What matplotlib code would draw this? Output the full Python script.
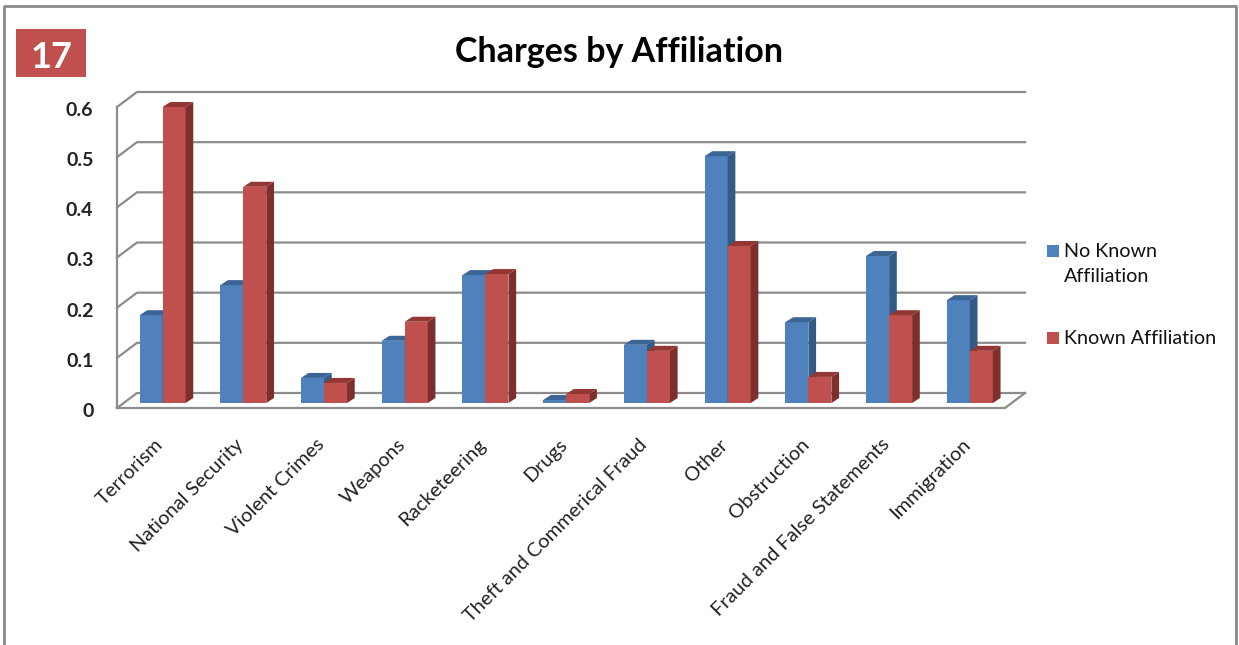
import numpy as np
import matplotlib
matplotlib.use("Agg")
import matplotlib.pyplot as plt
from matplotlib.patches import Polygon, Rectangle
from matplotlib.transforms import ScaledTranslation

plt.rcParams['font.family'] = ['Lato', 'DejaVu Sans']

categories = ['Terrorism', 'National Security', 'Violent Crimes', 'Weapons', 'Racketeering', 'Drugs',
              'Theft and Commerical Fraud', 'Other', 'Obstruction', 'Fraud and False Statements', 'Immigration']
no_known = [0.175, 0.235, 0.05, 0.124, 0.255, 0.006, 0.116, 0.492, 0.161, 0.293, 0.205]
known = [0.59, 0.431, 0.04, 0.162, 0.257, 0.018, 0.104, 0.313, 0.052, 0.175, 0.104]
yticks = [0, 0.1, 0.2, 0.3, 0.4, 0.5, 0.6]
yticklabels = ['0', '0.1', '0.2', '0.3', '0.4', '0.5', '0.6']

W, H = 1239, 645
GRAY = '#8c8c8c'
BLUE, BLUE_SIDE, BLUE_TOP = '#4f81bd', '#345a88', '#3a6595'
RED, RED_SIDE, RED_TOP = '#c0504d', '#7d2f2d', '#943634'

fig = plt.figure(figsize=(W / 100, H / 100), dpi=100)
ax = fig.add_axes([117 / W, 1 - 408 / H, 888 / W, 301 / H])
ax.set_xlim(0, 11)
ax.set_ylim(0, 0.6)
for s in ax.spines.values():
    s.set_visible(False)

# one pixel in data units, the fake 3d is built from this
px = 11 / 888
py = 0.6 / 301

# walls and gridlines
wall_x, wall_y = 20 * px, 15 * py
for v in yticks:
    ax.plot([0, wall_x, 11 + wall_x], [v, v + wall_y, v + wall_y], color=GRAY, lw=1.6, clip_on=False, zorder=1)
ax.plot([0, 0], [0, 0.6], color=GRAY, lw=1.6, clip_on=False, zorder=1)
ax.plot([0, 11, 11 + wall_x], [0, 0, wall_y], color=GRAY, lw=1.6, clip_on=False, zorder=1)

# bars stand a little back from the front edge
lift = 5 * py
shift = 5.2 * px
w = 23 * px
dep_x, dep_y = 7.7 * px, 5 * py


def bar3d(x, v, front, side, top):
    ax.bar(x, v, w, bottom=lift, color=front, align='edge', zorder=3, clip_on=False)
    x1 = x + w
    y1 = lift + v
    ax.add_patch(Polygon([(x1, lift), (x1 + dep_x, lift + dep_y), (x1 + dep_x, y1 + dep_y), (x1, y1)],
                         facecolor=side, edgecolor='none', zorder=3, clip_on=False))
    ax.add_patch(Polygon([(x, y1), (x + dep_x, y1 + dep_y), (x1 + dep_x, y1 + dep_y), (x1, y1)],
                         facecolor=top, edgecolor='none', zorder=3, clip_on=False))


centres = np.arange(len(categories)) + 0.5
for c, a, b in zip(centres, no_known, known):
    bar3d(c + shift - w, a, BLUE, BLUE_SIDE, BLUE_TOP)
    bar3d(c + shift, b, RED, RED_SIDE, RED_TOP)

ax.set_yticks(yticks)
ax.set_yticklabels(yticklabels, fontsize=14, fontweight='bold', color='#222222')
ax.set_xticks(centres)
ax.set_xticklabels(categories, rotation=45, ha='right', rotation_mode='anchor', fontsize=14.4, color='#222222')
ax.tick_params(axis='y', length=0, pad=17)
ax.tick_params(axis='x', length=0, pad=20)

# small nudges of the tick labels
for t in ax.get_yticklabels():
    t.set_transform(t.get_transform() + ScaledTranslation(0, -2 / 100, fig.dpi_scale_trans))
for t in ax.get_xticklabels():
    t.set_transform(t.get_transform() + ScaledTranslation(-3 / 100, 0, fig.dpi_scale_trans))

# title and number badge
fig.text(619 / W, 1 - 52 / H, 'Charges by Affiliation', ha='center', va='center', fontsize=24.5, fontweight='bold', color='black')
fig.add_artist(Rectangle((16 / W, 1 - 77 / H), 70 / W, 48 / H, transform=fig.transFigure, facecolor=RED, edgecolor='none'))
fig.text(52 / W, 1 - 57 / H, '17', ha='center', va='center', fontsize=26, fontweight='bold', color='white')

# legend
fig.add_artist(Rectangle((1047 / W, 1 - 257 / H), 12 / W, 12 / H, transform=fig.transFigure, facecolor=BLUE, edgecolor='none'))
fig.add_artist(Rectangle((1047 / W, 1 - 344 / H), 12 / W, 12 / H, transform=fig.transFigure, facecolor=RED, edgecolor='none'))
fig.text(1064 / W, 1 - 252 / H, 'No Known', va='center', fontsize=14.2, color='#111111')
fig.text(1064 / W, 1 - 277 / H, 'Affiliation', va='center', fontsize=14.2, color='#111111')
fig.text(1064 / W, 1 - 339 / H, 'Known Affiliation', va='center', fontsize=14.2, color='#111111')

# slide frame, open at the bottom
fig.add_artist(plt.Line2D([3.5 / W, 3.5 / W, 1236 / W, 1236 / W], [0, 1 - 5.5 / H, 1 - 5.5 / H, 0], color='#8a8a8a', lw=2))

fig.savefig('out.png', dpi=100)
